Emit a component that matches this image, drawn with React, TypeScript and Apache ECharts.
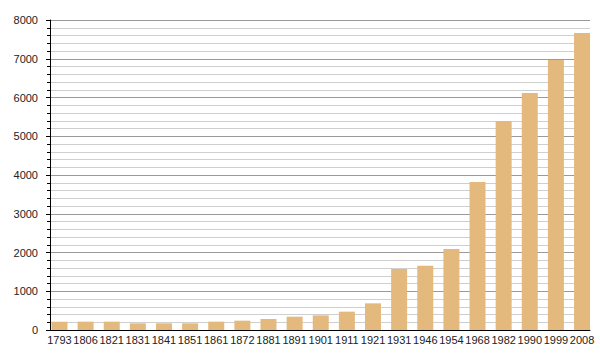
import React, { useEffect, useRef } from "react";
import * as echarts from "echarts";

const years = ["1793","1806","1821","1831","1841","1851","1861","1872","1881","1891","1901","1911","1921","1931","1946","1954","1968","1982","1990","1999","2008"];
const population = [215, 215, 215, 172, 172, 172, 215, 241, 284, 344, 378, 473, 688, 1574, 1660, 2090, 3819, 5394, 6116, 6968, 7665];
const yTicks = { min: 0, max: 8000, interval: 1000 };

export default function App() {
  const ref = useRef<HTMLDivElement>(null);
  useEffect(() => {
    const chart = echarts.init(ref.current!, null, { renderer: "svg" });
    const font = { fontFamily: "Liberation Sans, Arial, sans-serif", fontSize: 11, color: "#222" };
    chart.setOption({
      animation: false,
      backgroundColor: "#fff",
      grid: [
        { left: 50, right: 10, top: 20, bottom: 30 },
        { left: 46.4, right: 4.9, top: 20, bottom: 30 },
      ],
      xAxis: [
        {
          gridIndex: 0, type: "value", min: 0, max: 1,
          axisLine: { show: true, lineStyle: { color: "#000", width: 1 } },
          axisTick: { show: false }, axisLabel: { show: false }, splitLine: { show: false },
        },
        {
          gridIndex: 1, type: "category", data: years,
          axisLine: { show: false }, axisTick: { show: false },
          axisLabel: { ...font, interval: 0, margin: 4 },
        },
      ],
      yAxis: [
        {
          gridIndex: 0, type: "value", min: yTicks.min, max: yTicks.max, interval: yTicks.interval,
          axisLine: { show: true, lineStyle: { color: "#000", width: 1 } },
          axisTick: { show: true, length: 4, lineStyle: { color: "#000" } },
          minorTick: { show: true, splitNumber: 5, length: 3, lineStyle: { color: "#000" } },
          axisLabel: { ...font, margin: 12, formatter: (v: number) => String(v) },
          splitLine: { show: true, lineStyle: { color: "#9a9a9a", width: 1 } },
          minorSplitLine: { show: true, lineStyle: { color: "#cfcfcf", width: 1 } },
        },
        {
          gridIndex: 1, type: "value", min: yTicks.min, max: yTicks.max, show: false,
          splitLine: { show: false },
        },
      ],
      series: [
        {
          type: "bar", xAxisIndex: 1, yAxisIndex: 1, data: population,
          barWidth: 16, itemStyle: { color: "#E4B97E" },
        },
      ],
    });
    return () => chart.dispose();
  }, []);
  return <div ref={ref} style={{ width: 600, height: 360, position: "absolute", left: 0, top: 0 }} />;
}
